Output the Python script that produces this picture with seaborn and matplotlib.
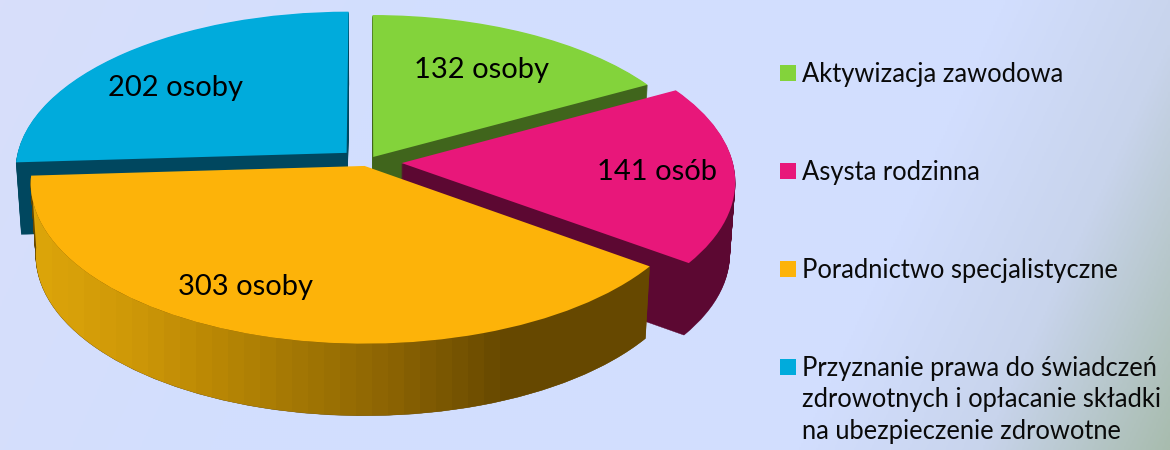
import numpy as np
import matplotlib
matplotlib.use("Agg")
import matplotlib.pyplot as plt
from matplotlib.colors import LinearSegmentedColormap
from matplotlib.patches import Rectangle, Wedge
from matplotlib.path import Path
from matplotlib.transforms import Transform
import seaborn as sns

categories = ["Aktywizacja zawodowa", "Asysta rodzinna", "Poradnictwo specjalistyczne",
              "Przyznanie prawa do świadczeń\nzdrowotnych i opłacanie składki\nna ubezpieczenie zdrowotne"]
values = [132, 141, 303, 202]
slice_labels = ["132 osoby", "141 osób", "303 osoby", "202 osoby"]

explode = [0.037, 0.105, 0.026, 0.085]
face_colors = ["#83D33B", "#E8177A", "#FDB309", "#00ABDC"]
wall_colors = ["#40651C", "#5C0832", "#664800", "#00475F"]
label_xy = [(481, 70), (657, 172), (245, 287), (175, 88)]
legend_y = [73, 171, 269, 367]

sns.set_theme(style="white")
plt.rcParams["font.family"] = ["Lato", "DejaVu Sans"]
palette = sns.color_palette(face_colors)

CX, CY, RX, RY, K = 367.0, 162.0, 331.0, 158.0, 0.106
DEPTH, SHRINK = 72.0, 0.015


class Tilt(Transform):
    """Projects the flat unit pie onto the tilted disc; drop moves it to the lower face."""
    input_dims = output_dims = 2
    is_separable = False
    has_inverse = False

    def __init__(self, drop=0.0):
        super().__init__()
        self.drop = drop

    def transform_non_affine(self, xy):
        xy = np.asarray(xy, dtype=float)
        u, v = xy[:, 0], xy[:, 1]
        w = 1 + K * v
        s = 1 - SHRINK * self.drop / DEPTH
        return np.column_stack([CX + RX * u / w * s, CY - RY * v / w + self.drop])


fig = plt.figure(figsize=(11.7, 4.5), dpi=100)
ax = fig.add_axes([0, 0, 1, 1])

wedges, _ = ax.pie(values, explode=explode, colors=palette, startangle=90,
                   counterclock=False, wedgeprops={"linewidth": 0})
ax.set_aspect("auto")
ax.set_xlim(0, 1170)
ax.set_ylim(450, 0)
ax.set_autoscale_on(False)
ax.axis("off")

# Slide background
yy, xx = np.mgrid[0:450:2, 0:1170:2]
t = xx + 0.46 * yy
bg_cmap = LinearSegmentedColormap.from_list(
    "bg", [(0, "#D8DEFA"), (0.30, "#D2DEFE"), (0.73, "#D2DEFE"), (0.863, "#C8D4EC"), (1, "#A8BCAE")])
ax.imshow(t / 1377.0, cmap=bg_cmap, vmin=0, vmax=1, extent=(0, 1170, 450, 0),
          aspect="auto", zorder=0, interpolation="bilinear")

# Back to front: blue, green, pink, orange
order = [3, 0, 1, 2]
for rank, i in enumerate(order):
    w = wedges[i]
    base = 10 + 10 * rank
    w.set_transform(Tilt() + ax.transData)
    w.set_zorder(base + 5)
    for d in np.arange(DEPTH, 0, -1.0):
        ax.add_patch(Wedge(w.center, w.r, w.theta1, w.theta2, facecolor=wall_colors[i],
                           edgecolor=wall_colors[i], linewidth=0.3,
                           transform=Tilt(d) + ax.transData, zorder=base))
    if i == 2:
        th = np.radians(np.linspace(w.theta1, w.theta2, 200))
        rim = np.column_stack([w.center[0] + w.r * np.cos(th), w.center[1] + w.r * np.sin(th)])
        poly = np.vstack([Tilt(0).transform_non_affine(rim),
                          Tilt(DEPTH).transform_non_affine(rim)[::-1]])
        wall_cmap = LinearSegmentedColormap.from_list(
            "wall", [(0, "#DEA60A"), (0.15, "#D09A08"), (0.28, "#BD8A05"), (0.45, "#A07504"),
                     (0.58, "#8C6403"), (0.77, "#664800"), (1, "#664800")])
        grad = np.linspace(0, 1, 40)[None, :]
        im = ax.imshow(grad, cmap=wall_cmap, extent=(20, 660, 450, 0), aspect="auto",
                       zorder=base + 1, interpolation="nearest")
        im.set_clip_path(Path(poly, closed=False), ax.transData)

for (x, y), s in zip(label_xy, slice_labels):
    ax.text(x, y, s, ha="center", va="center", fontsize=21, color="black", zorder=80)

for c, y, s in zip(palette, legend_y, categories):
    ax.add_patch(Rectangle((780, y - 8), 16, 16, facecolor=c, linewidth=0, zorder=80))
    ax.text(802, y - 11, s, ha="left", va="top", fontsize=18.4, color="#0A0A0A",
            linespacing=1.32, zorder=80)

fig.savefig("out.png", dpi=100)
